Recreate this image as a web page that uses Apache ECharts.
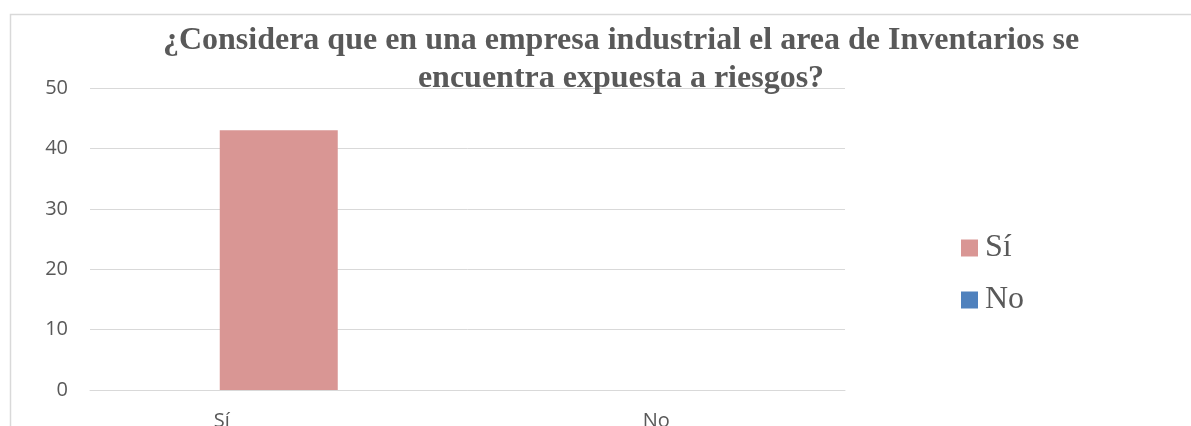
<!DOCTYPE html>
<html>
<head>
<meta charset="utf-8">
<script src="https://cdn.jsdelivr.net/npm/echarts@6/dist/echarts.min.js"></script>
<style>
html,body{margin:0;padding:0;background:#fff;}
#chart{width:1191px;height:426px;}
</style>
</head>
<body>
<div id="chart"></div>
<script>
const titleText = "¿Considera que en una empresa industrial el area de Inventarios se\nencuentra expuesta a riesgos?";
const categories = ["Sí", "No"];
const seriesNames = ["Sí", "No"];
const siValues = [43, "-"];
const noValues = ["-", 0];
const yTicks = { min: 0, max: 50, interval: 10 };

const chart = echarts.init(document.getElementById("chart"));
const gray = "#595959";
chart.setOption({
  animation: false,
  backgroundColor: "#ffffff",
  graphic: [{
    type: "rect",
    silent: true,
    shape: { x: 10.5, y: 14.5, width: 1300, height: 500 },
    style: { fill: "none", stroke: "#d9d9d9", lineWidth: 1.5 }
  }],
  title: {
    text: titleText,
    left: 616,
    textAlign: "center",
    top: 17,
    textStyle: {
      fontFamily: "Liberation Serif",
      fontWeight: "bold",
      fontSize: 32,
      lineHeight: 38,
      color: gray
    }
  },
  legend: {
    orient: "vertical",
    left: 961,
    top: 232,
    padding: 0,
    itemWidth: 17,
    itemHeight: 17,
    itemGap: 20,
    icon: "rect",
    data: seriesNames,
    textStyle: { fontFamily: "Liberation Serif", fontSize: 32, lineHeight: 32, color: gray, padding: [0, 0, 0, 2] }
  },
  grid: { left: 90, right: 346, top: 88, bottom: 36, containLabel: false, outerBoundsMode: "none" },
  xAxis: {
    type: "category",
    data: categories,
    axisLine: { lineStyle: { color: "#d9d9d9", width: 1 } },
    axisTick: { show: false },
    axisLabel: {
      margin: 21,
      fontFamily: "Open Sans",
      fontSize: 20,
      color: gray,
      formatter: function (v) { return v === "Sí" ? "{s|" + v + "}" : v; },
      rich: { s: { fontFamily: "Open Sans", fontSize: 20, color: gray, padding: [0, 114, 0, 0] } }
    }
  },
  yAxis: {
    type: "value",
    min: yTicks.min,
    max: yTicks.max,
    interval: yTicks.interval,
    axisLine: { show: false },
    axisTick: { show: false },
    splitLine: { lineStyle: { color: "#d9d9d9", width: 1 } },
    axisLabel: { margin: 22, fontFamily: "Open Sans", fontSize: 20, color: gray }
  },
  series: [
    { name: seriesNames[0], type: "bar", stack: "t", data: siValues, barWidth: 118, itemStyle: { color: "#d99694" } },
    { name: seriesNames[1], type: "bar", stack: "t", data: noValues, barWidth: 118, itemStyle: { color: "#4f81bd" } }
  ]
});
</script>
</body>
</html>
